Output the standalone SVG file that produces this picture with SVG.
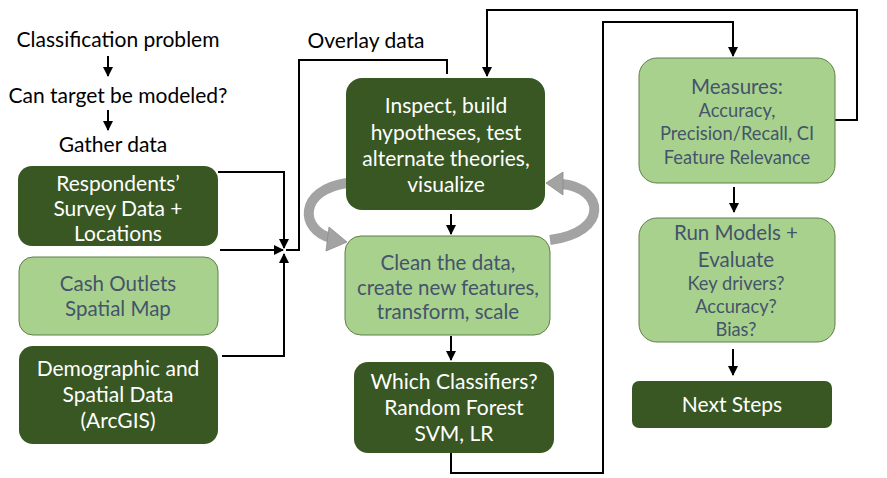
<svg xmlns="http://www.w3.org/2000/svg" width="887" height="478" viewBox="0 0 887 478">
<defs>
<style>
.dk{fill:#385723;}
.lt{fill:#a9d18e;stroke:#5f7f4a;stroke-width:1;}
.t{font-family:Lato,"Open Sans",sans-serif;text-anchor:middle;}
.tw{fill:#ffffff;font-size:21px;}
.tl{fill:#44546a;font-size:20.5px;}
.ts{fill:#44546a;font-size:18.3px;}
.tb{fill:#000000;font-size:21px;}
.ln{fill:none;stroke:#000;stroke-width:2;}
.gr{fill:none;stroke:#a3a3a3;stroke-width:10;}
.gh{fill:#a3a3a3;stroke:#8c8c8c;stroke-width:0.8;}
</style>
<marker id="ah" viewBox="0 0 10 10" refX="9" refY="5" markerWidth="5" markerHeight="5" orient="auto" markerUnits="strokeWidth">
<path d="M0,0 L10,5 L0,10 z" fill="#000"/>
</marker>
</defs>

<g id="labels">
<text class="t tb" x="118" y="47">Classification problem</text>
<text class="t tb" x="118" y="103">Can target be modeled?</text>
<text class="t tb" x="113" y="152">Gather data</text>
<text class="t tb" x="366" y="48">Overlay data</text>
</g>

<g id="connectors">
<line class="ln" x1="108" y1="56" x2="108" y2="76" marker-end="url(#ah)"/>
<line class="ln" x1="108" y1="110" x2="108" y2="130" marker-end="url(#ah)"/>
<polyline class="ln" points="218,172 284,172 284,248" marker-end="url(#ah)"/>
<polyline class="ln" points="220,250 283,250" marker-end="url(#ah)"/>
<polyline class="ln" points="222,356 284,356 284,254" marker-end="url(#ah)"/>
<polyline class="ln" points="286,250 299,250 299,60 447,60 447,74"/>
<line class="ln" x1="451" y1="214" x2="451" y2="234" marker-end="url(#ah)"/>
<line class="ln" x1="451" y1="336" x2="451" y2="360" marker-end="url(#ah)"/>
<polyline class="ln" points="451,453 451,473 603,473 603,22 733,22 733,56" marker-end="url(#ah)"/>
<polyline class="ln" points="835,120 857,120 857,10 487,10 487,76" marker-end="url(#ah)"/>
<line class="ln" x1="734" y1="187" x2="734" y2="212" marker-end="url(#ah)"/>
<line class="ln" x1="733" y1="349" x2="733" y2="375" marker-end="url(#ah)"/>
<path class="gr" d="M347,183 C298,190 300,230 331,238"/>
<polygon class="gh" points="347,242 329,227 326,251"/>
<path class="gr" d="M550,240 C610,232 604,188 562,184"/>
<polygon class="gh" points="546,183 563,172 563,195"/>
</g>

<g id="respondents">
<rect class="dk" x="18" y="166" width="200" height="80" rx="14"/>
<text class="t tw" x="118" y="191">Respondents’</text>
<text class="t tw" x="118" y="216">Survey Data +</text>
<text class="t tw" x="118" y="241">Locations</text>
</g>
<g id="cash">
<rect class="lt" x="19" y="257" width="199" height="78" rx="14"/>
<text class="t tl" x="118" y="291">Cash Outlets</text>
<text class="t tl" x="118" y="316">Spatial Map</text>
</g>
<g id="demographic">
<rect class="dk" x="19" y="346" width="199" height="98" rx="14"/>
<text class="t tw" x="118" y="376">Demographic and</text>
<text class="t tw" x="118" y="402">Spatial Data</text>
<text class="t tw" x="118" y="428">(ArcGIS)</text>
</g>
<g id="inspect">
<rect class="dk" x="346" y="78" width="199" height="132" rx="16"/>
<text class="t tw" x="446" y="113">Inspect, build</text>
<text class="t tw" x="446" y="140">hypotheses, test</text>
<text class="t tw" x="446" y="166">alternate theories,</text>
<text class="t tw" x="446" y="192">visualize</text>
</g>
<g id="clean">
<rect class="lt" x="345" y="236" width="205" height="99" rx="16"/>
<text class="t tl" x="448" y="270">Clean the data,</text>
<text class="t tl" x="448" y="295">create new features,</text>
<text class="t tl" x="448" y="319">transform, scale</text>
</g>
<g id="classifiers">
<rect class="dk" x="354" y="362" width="200" height="91" rx="14"/>
<text class="t tw" x="454" y="389">Which Classifiers?</text>
<text class="t tw" x="454" y="415">Random Forest</text>
<text class="t tw" x="454" y="441">SVM, LR</text>
</g>
<g id="measures">
<rect class="lt" x="639" y="58" width="196" height="125" rx="18"/>
<text class="t tl" x="737" y="94">Measures:</text>
<text class="t ts" x="737" y="117">Accuracy,</text>
<text class="t ts" x="737" y="140">Precision/Recall, CI</text>
<text class="t ts" x="737" y="164">Feature Relevance</text>
</g>
<g id="runmodels">
<rect class="lt" x="639" y="218" width="196" height="124" rx="18"/>
<text class="t tl" x="736" y="240">Run Models +</text>
<text class="t tl" x="736" y="267">Evaluate</text>
<text class="t ts" x="736" y="290">Key drivers?</text>
<text class="t ts" x="736" y="313">Accuracy?</text>
<text class="t ts" x="736" y="336">Bias?</text>
</g>
<g id="nextsteps">
<rect class="dk" x="632" y="381" width="200" height="47" rx="7"/>
<text class="t tw" x="732" y="412">Next Steps</text>
</g>
</svg>
